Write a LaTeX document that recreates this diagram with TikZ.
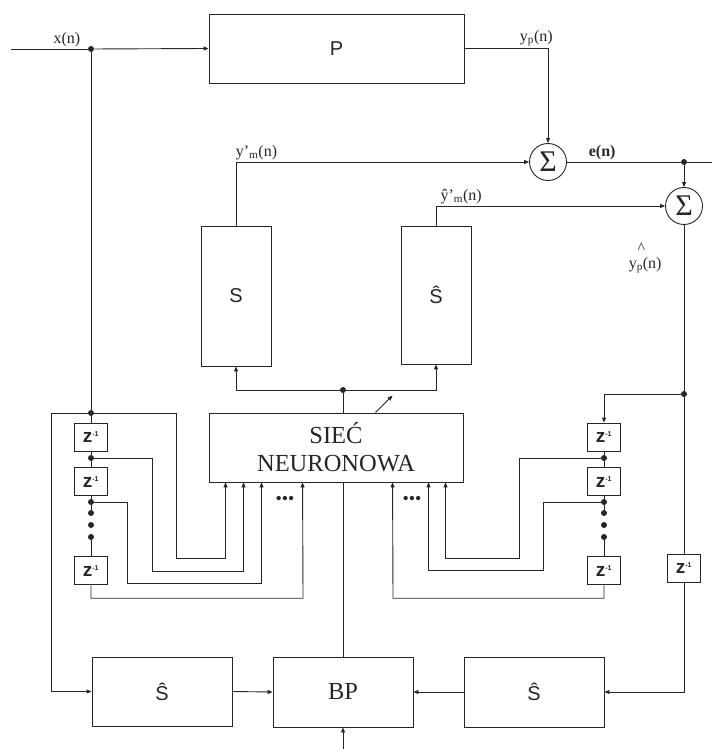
\documentclass[tikz,border=0pt]{standalone}
\usepackage{fontspec}
\setmainfont{Liberation Serif}
\setsansfont{Liberation Sans}
\usetikzlibrary{arrows.meta, calc, positioning}

\begin{document}
\begin{tikzpicture}[x=1pt, y=-1pt, >={Triangle[length=5pt, width=4pt]}, line width=0.9pt, color=black!85]
        % --- STYLE ---
        \tikzset{
            block/.style={draw, rectangle, fill=white, inner sep=0pt, font=\sffamily\fontsize{20}{24}\selectfont},
            rblock/.style={block, align=center, font=\rmfamily\fontsize{24.5}{28}\selectfont},
            sum/.style={draw, circle, fill=white, inner sep=0pt, minimum size=37pt, font=\fontsize{30}{30}\selectfont},
            delay/.style={draw, rectangle, fill=white, inner sep=0pt, minimum width=33pt, minimum height=28pt, font=\sffamily\bfseries\fontsize{19}{19}\selectfont},
            junction/.style={circle, fill, inner sep=0pt, minimum size=6pt},
            input/.style={coordinate},
            output/.style={coordinate},
            lbl/.style={inner sep=2pt, font=\fontsize{16}{18}\selectfont}
        }
        \useasboundingbox (0,0) rectangle (712,749);

        % --- BLOKI ---
        \node [block, minimum width=255pt, minimum height=69pt] (plant) at (336.5,48.5) {P};
        \node [block, minimum width=70pt, minimum height=140pt] (smod) at (236,296) {S};
        \node [block, minimum width=70pt, minimum height=138pt] (shat) at (436,295) {\^{S}};
        \node [sum] (sum_e) at (548,162) {Σ};
        \node [sum] (sum_y) at (684,206) {Σ};
        \node [rblock, minimum width=254pt, minimum height=69pt] (siec) at (336,447.5) {SIEĆ\\NEURONOWA};
        \node [rblock, minimum width=140pt, minimum height=70pt] (bp) at (343,692) {BP};
        \node [block, minimum width=140pt, minimum height=69pt] (shat_l) at (162,691.5) {\^{S}};
        \node [block, minimum width=140pt, minimum height=70pt] (shat_r) at (534,692) {\^{S}};

        % --- LINIE OPOZNIAJACE ---
        \node [delay] (zl1) at (91,437) {z\textsuperscript{\scriptsize-1}};
        \node [delay, below=16pt of zl1] (zl2) {z\textsuperscript{\scriptsize-1}};
        \node [delay, below=60pt of zl2] (zl3) {z\textsuperscript{\scriptsize-1}};

        \node [delay] (zr1) at (604,437) {z\textsuperscript{\scriptsize-1}};
        \node [delay, below=16pt of zr1] (zr2) {z\textsuperscript{\scriptsize-1}};
        \node [delay, below=60pt of zr2] (zr3) {z\textsuperscript{\scriptsize-1}};

        \node [delay] (zfb) at (684,568) {z\textsuperscript{\scriptsize-1}};

        % --- WEZLY ---
        \node [input] (x_in) at (11,49) {};
        \node [output] (e_out) at (712,162) {};
        \node [input] (bp_in) at (343,749) {};

        \node [junction] (jx) at (91,49) {};
        \node [junction] (jl0) at (91,413) {};
        \node [junction] (jl1) at (91,458) {};
        \node [junction] (jl2) at (91,502) {};
        \node [junction] (dl1) at (91,513) {};
        \node [junction] (dl2) at (91,525) {};
        \node [junction] (dl3) at (91,537) {};

        \node [junction] (je) at (684,162) {};
        \node [junction] (jr) at (684,394) {};
        \node [junction] (jr1) at (604,458) {};
        \node [junction] (jr2) at (604,502) {};
        \node [junction] (dr1) at (604,513) {};
        \node [junction] (dr2) at (604,525) {};
        \node [junction] (dr3) at (604,537) {};

        \node [junction] (jn) at (343,390) {};

        \node [font=\fontsize{18}{18}\selectfont] (dots_l) at (285,500) {\textbullet\textbullet\textbullet};
        \node [font=\fontsize{18}{18}\selectfont] (dots_r) at (412,500) {\textbullet\textbullet\textbullet};

        % --- TOR GLOWNY ---
        \draw (x_in) -- node[lbl, above, pos=0.73] {x(n)} (jx);
        \draw [->] (jx) -- (plant.west);
        \draw (jx) -- (jl0);
        \draw [->] (plant.east) -| node[lbl, above, pos=0.43] {y\textsubscript{p}(n)} (sum_e.north);
        \draw [->] (smod.north) |- node[lbl, above, pos=0.535] {y'\textsubscript{m}(n)} (sum_e.west);
        \draw [->] (shat.north) |- node[lbl, above, pos=0.555] {\^{y}'\textsubscript{m}(n)} (sum_y.west);
        \draw (sum_e.east) -- node[lbl, above, pos=0.31] {\bfseries e(n)} (je);
        \draw (je) -- (e_out);
        \draw [->] (je) -- (sum_y.north);
        \draw (sum_y.south) -- node[lbl, left=20pt, pos=0.2] {\makebox[0pt][l]{\hspace{0.55em}\raisebox{2ex}{\^{}}}y\textsubscript{p}(n)} (jr);

        % --- SPRZEZENIE ---
        \draw (jr) -- (zfb.north);
        \draw [->] (zfb.south) |- (shat_r.east);
        \draw [->] (jr) -| (zr1.north);

        % --- LANCUCHY OPOZNIEN ---
        \draw (jl0) -- (zl1.north);
        \draw (zl1.south) -- (jl1) -- (zl2.north);
        \draw (zl2.south) -- (jl2) -- (dl1);
        \draw (dl3) -- (zl3.north);

        \draw (zr1.south) -- (jr1) -- (zr2.north);
        \draw (zr2.south) -- (jr2) -- (dr1);
        \draw (dr3) -- (zr3.north);

        % --- WEJSCIA SIECI ---
        \draw [->] (jl0) -| (176,558) -| ($(siec.south west)+(17,0)$);
        \draw [->] (jl1) -| (152,571) -| ($(siec.south west)+(35,0)$);
        \draw [->] (jl2) -| (127,583) -| ($(siec.south west)+(53,0)$);
        \draw [->] (zl3.south) |- ++(212,13) -- ($(siec.south west)+(94,0)$);

        \draw [->] (jr1) -| (519,558) -| ($(siec.south west)+(237,0)$);
        \draw [->] (jr2) -| (543,570) -| ($(siec.south west)+(220,0)$);
        \draw [->] (zr3.south) |- ++(-211,13) -- ($(siec.south west)+(184,0)$);

        % --- WYJSCIA SIECI I BP ---
        \draw (bp.north |- siec.north) -- (jn);
        \draw [->] (jn) -| (smod.south);
        \draw [->] (jn) -| (shat.south);
        \draw [->] ($(siec.north west)+(167,0)$) -- ++(17,-17);

        \draw [->] (jl0) -| ($(shat_l.west)-(40,0)$) -- (shat_l.west);
        \draw [->] (shat_l.east) -- (bp.west);
        \draw [->] (shat_r.west) -- (bp.east);
        \draw (bp.north |- siec.south) -- (bp.north);
        \draw [->] (bp_in) -- (bp.south);

\end{tikzpicture}
\end{document}
